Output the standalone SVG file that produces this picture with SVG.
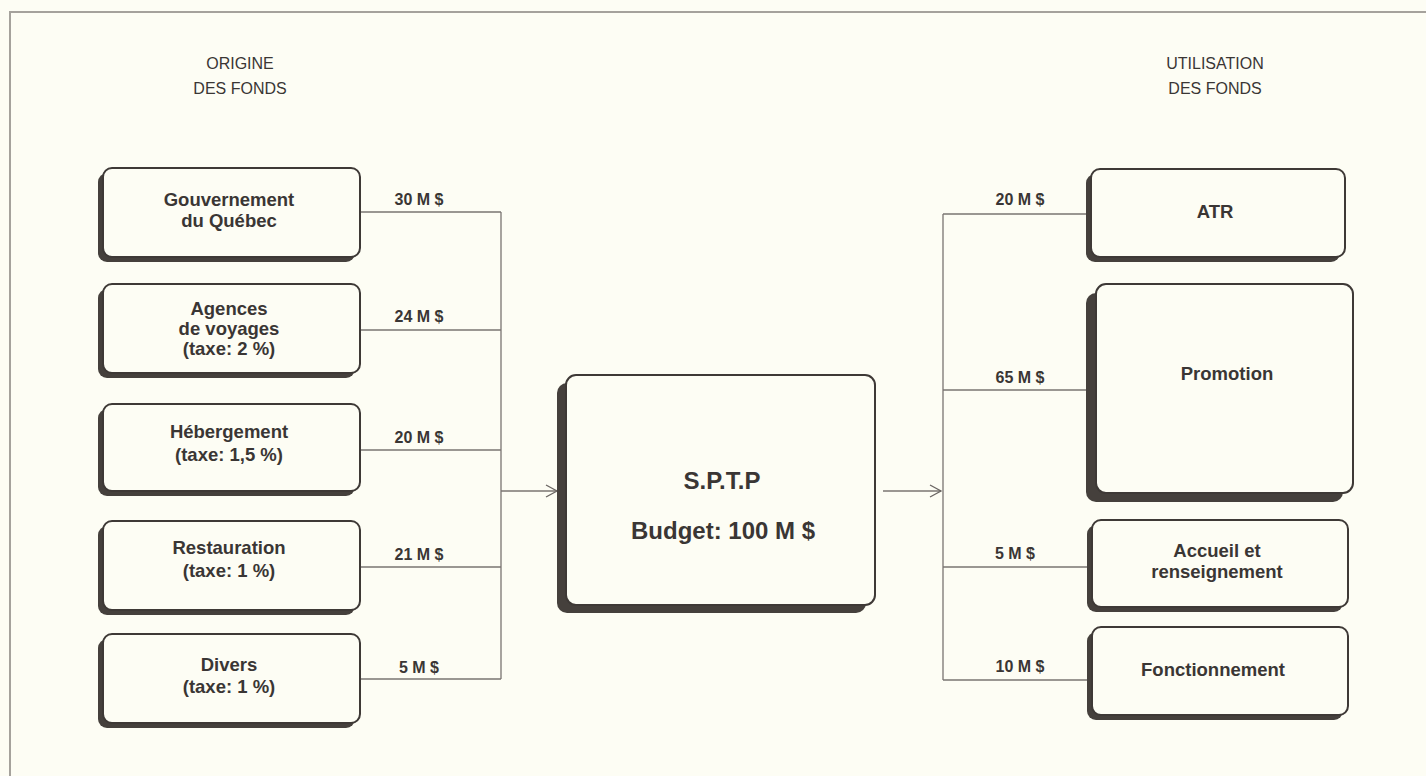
<svg xmlns="http://www.w3.org/2000/svg" width="1426" height="776" viewBox="0 0 1426 776">
<style>
.bg{fill:#fdfdf4}
.box{fill:#fdfdf4;stroke:#3e3936;stroke-width:2}
.sh{fill:#45403c}
.t{font-family:"Liberation Sans",Arial,sans-serif;font-weight:bold;fill:#3a3634;text-anchor:middle}
.bt{font-size:18.5px}
.lb{font-size:16px}
.big{font-size:24px}
.hd{font-family:"Liberation Sans",Arial,sans-serif;font-size:16px;fill:#3a3634;text-anchor:middle}
.ln{fill:none;stroke:#7a7572;stroke-width:1.3}
</style>
<defs>
<marker id="chev" markerWidth="14" markerHeight="14" refX="12" refY="7" orient="auto" markerUnits="userSpaceOnUse">
<path d="M1,1 L12,7 L1,13" fill="none" stroke="#6a6562" stroke-width="1.3"/>
</marker>
</defs>
<rect class="bg" x="0" y="0" width="1426" height="776"/>
<path d="M10,776 L10,12 L1426,12" fill="none" stroke="#a5a29c" stroke-width="2"/>

<g id="headers">
<text class="hd" x="240" y="69">ORIGINE</text>
<text class="hd" x="240" y="94">DES FONDS</text>
<text class="hd" x="1215" y="69">UTILISATION</text>
<text class="hd" x="1215" y="94">DES FONDS</text>
</g>

<g id="connectors">
<path class="ln" d="M360,212 H501 M360,330 H501 M360,450 H501 M360,567 H501 M360,679 H501 M501,212 V679"/>
<path class="ln" d="M501,491 H557" marker-end="url(#chev)"/>
<path class="ln" d="M883,491 H941" marker-end="url(#chev)"/>
<path class="ln" d="M943,214 V680 M943,214 H1088 M943,390 H1088 M943,567 H1088 M943,680 H1088"/>
<text class="t lb" x="419" y="205">30 M $</text>
<text class="t lb" x="419" y="322">24 M $</text>
<text class="t lb" x="419" y="443">20 M $</text>
<text class="t lb" x="419" y="560">21 M $</text>
<text class="t lb" x="419" y="673">5 M $</text>
<text class="t lb" x="1020" y="205">20 M $</text>
<text class="t lb" x="1020" y="383">65 M $</text>
<text class="t lb" x="1015" y="559">5 M $</text>
<text class="t lb" x="1020" y="672">10 M $</text>
</g>

<g id="gouvernement">
<rect class="sh" x="98" y="173" width="257" height="89" rx="9"/>
<rect class="box" x="103" y="168" width="257" height="89" rx="9"/>
<text class="t bt" x="229" y="206">Gouvernement</text>
<text class="t bt" x="229" y="227">du Québec</text>
</g>
<g id="agences">
<rect class="sh" x="98" y="289" width="257" height="89" rx="9"/>
<rect class="box" x="103" y="284" width="257" height="89" rx="9"/>
<text class="t bt" x="229" y="315">Agences</text>
<text class="t bt" x="229" y="335">de voyages</text>
<text class="t bt" x="229" y="355">(taxe: 2 %)</text>
</g>
<g id="hebergement">
<rect class="sh" x="98" y="409" width="257" height="87" rx="9"/>
<rect class="box" x="103" y="404" width="257" height="87" rx="9"/>
<text class="t bt" x="229" y="438">Hébergement</text>
<text class="t bt" x="229" y="461">(taxe: 1,5 %)</text>
</g>
<g id="restauration">
<rect class="sh" x="98" y="526" width="257" height="89" rx="9"/>
<rect class="box" x="103" y="521" width="257" height="89" rx="9"/>
<text class="t bt" x="229" y="554">Restauration</text>
<text class="t bt" x="229" y="577">(taxe: 1 %)</text>
</g>
<g id="divers">
<rect class="sh" x="98" y="639" width="257" height="89" rx="9"/>
<rect class="box" x="103" y="634" width="257" height="89" rx="9"/>
<text class="t bt" x="229" y="671">Divers</text>
<text class="t bt" x="229" y="693">(taxe: 1 %)</text>
</g>

<g id="sptp">
<rect class="sh" x="557" y="383" width="309" height="230" rx="10"/>
<rect class="box" x="566" y="375" width="309" height="230" rx="10"/>
<text class="t big" x="722" y="489">S.P.T.P</text>
<text class="t big" x="723" y="539">Budget: 100 M $</text>
</g>

<g id="atr">
<rect class="sh" x="1086" y="174" width="254" height="88" rx="9"/>
<rect class="box" x="1091" y="169" width="254" height="88" rx="9"/>
<text class="t bt" x="1215" y="218">ATR</text>
</g>
<g id="promotion">
<rect class="sh" x="1086" y="293" width="257" height="209" rx="10"/>
<rect class="box" x="1096" y="284" width="257" height="209" rx="10"/>
<text class="t bt" x="1227" y="380">Promotion</text>
</g>
<g id="accueil">
<rect class="sh" x="1087" y="525" width="256" height="87" rx="9"/>
<rect class="box" x="1092" y="520" width="256" height="87" rx="9"/>
<text class="t bt" x="1217" y="557">Accueil et</text>
<text class="t bt" x="1217" y="578">renseignement</text>
</g>
<g id="fonctionnement">
<rect class="sh" x="1087" y="632" width="256" height="88" rx="9"/>
<rect class="box" x="1092" y="627" width="256" height="88" rx="9"/>
<text class="t bt" x="1213" y="676">Fonctionnement</text>
</g>
</svg>
